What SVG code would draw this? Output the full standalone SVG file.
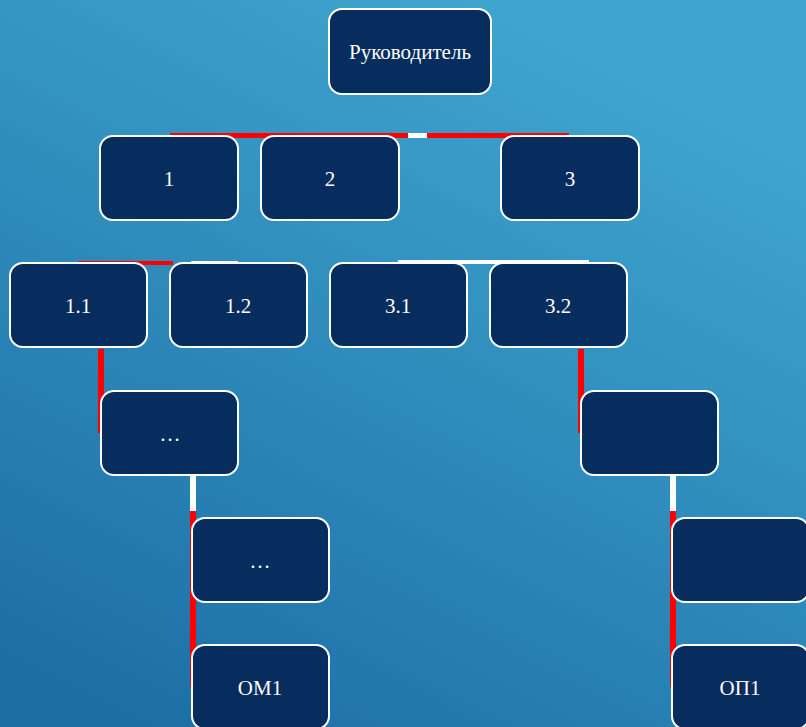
<svg xmlns="http://www.w3.org/2000/svg" width="806" height="727" viewBox="0 0 806 727">
  <defs>
    <linearGradient id="bg" x1="150" y1="727" x2="520" y2="0" gradientUnits="userSpaceOnUse">
      <stop offset="0" stop-color="#1d6fa6"/>
      <stop offset="1" stop-color="#3fa6cf"/>
    </linearGradient>
    <style>
      .box { fill: #062d5e; stroke: #ffffff; stroke-width: 2; }
      .lbl { fill: #ffffff; font-family: 'Liberation Serif', 'Times New Roman', 'DejaVu Serif', serif; font-size: 21px; text-anchor: middle; }
      .red { fill: #ff0000; }
      .wht { fill: #ffffff; }
    </style>
  </defs>

  <rect x="0" y="0" width="806" height="727" fill="url(#bg)"/>

  <!-- connectors -->
  <g id="connectors">
    <rect class="red" x="170" y="133" width="238" height="5"/>
    <rect class="wht" x="408" y="133" width="19" height="5"/>
    <rect class="red" x="427" y="133" width="142" height="5"/>

    <rect class="red" x="78" y="261" width="95" height="4"/>
    <rect class="wht" x="191" y="261" width="47" height="3"/>
    <rect class="wht" x="398" y="260" width="191" height="4"/>

    <rect class="red" x="98" y="349" width="6" height="84"/>
    <rect class="red" x="578" y="349" width="6" height="84"/>

    <rect class="wht" x="190" y="476" width="6" height="35"/>
    <rect class="red" x="190" y="511" width="6" height="176"/>
    <rect class="wht" x="670" y="476" width="6" height="35"/>
    <rect class="red" x="670" y="511" width="6" height="176"/>
  </g>

  <g id="n-head">
    <rect class="box" x="329" y="9" width="162" height="85" rx="13"/>
    <text class="lbl" x="410" y="59">Руководитель</text>
  </g>
  <g id="n-1">
    <rect class="box" x="100" y="136" width="138" height="84" rx="13"/>
    <text class="lbl" x="169" y="186">1</text>
  </g>
  <g id="n-2">
    <rect class="box" x="261" y="136" width="138" height="84" rx="13"/>
    <text class="lbl" x="330" y="186">2</text>
  </g>
  <g id="n-3">
    <rect class="box" x="501" y="136" width="138" height="84" rx="13"/>
    <text class="lbl" x="570" y="186">3</text>
  </g>
  <g id="n-1-1">
    <rect class="box" x="10" y="263" width="137" height="84" rx="13"/>
    <text class="lbl" x="78" y="313">1.1</text>
  </g>
  <g id="n-1-2">
    <rect class="box" x="170" y="263" width="137" height="84" rx="13"/>
    <text class="lbl" x="238" y="313">1.2</text>
  </g>
  <g id="n-3-1">
    <rect class="box" x="330" y="263" width="137" height="84" rx="13"/>
    <text class="lbl" x="398" y="313">3.1</text>
  </g>
  <g id="n-3-2">
    <rect class="box" x="490" y="263" width="137" height="84" rx="13"/>
    <text class="lbl" x="558" y="313">3.2</text>
  </g>
  <g id="n-left-3">
    <rect class="box" x="101" y="391" width="137" height="84" rx="13"/>
    <text class="lbl" x="170" y="441">…</text>
  </g>
  <g id="n-right-3">
    <rect class="box" x="581" y="391" width="137" height="84" rx="13"/>
  </g>
  <g id="n-left-4">
    <rect class="box" x="192" y="518" width="137" height="84" rx="13"/>
    <text class="lbl" x="260" y="568">…</text>
  </g>
  <g id="n-right-4">
    <rect class="box" x="672" y="518" width="137" height="84" rx="13"/>
  </g>
  <g id="n-om1">
    <rect class="box" x="192" y="645" width="137" height="84" rx="13"/>
    <text class="lbl" x="260" y="695">ОМ1</text>
  </g>
  <g id="n-op1">
    <rect class="box" x="672" y="645" width="137" height="84" rx="13"/>
    <text class="lbl" x="740" y="695">ОП1</text>
  </g>
</svg>
